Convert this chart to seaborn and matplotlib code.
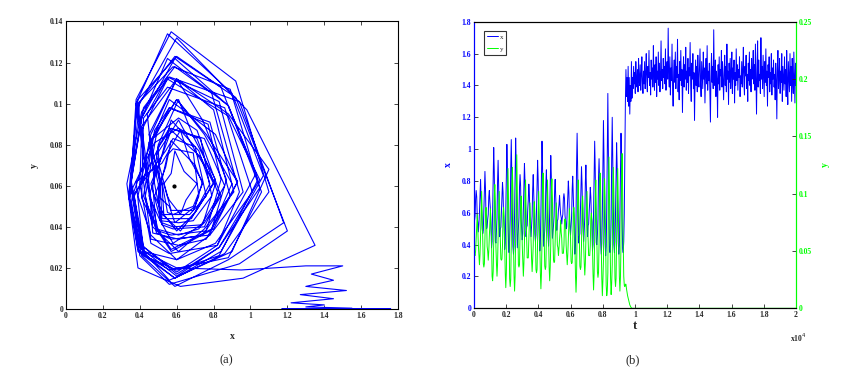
import numpy as np
import pandas as pd
import matplotlib
matplotlib.use("Agg")
import matplotlib.pyplot as plt
import seaborn as sns

# prey x during the oscillating phase (8 samples per cycle)
x_osc = [
    0.52, 0.55, 0.58, 0.69, 0.74, 0.70, 0.57, 0.54,
    0.48, 0.53, 0.60, 0.70, 0.81, 0.69, 0.61, 0.50,
    0.47, 0.49, 0.61, 0.72, 0.86, 0.75, 0.56, 0.50,
    0.51, 0.56, 0.59, 0.70, 0.74, 0.67, 0.62, 0.52,
    0.38, 0.42, 0.60, 0.81, 1.01, 0.86, 0.55, 0.42,
    0.41, 0.49, 0.57, 0.80, 0.93, 0.76, 0.60, 0.45,
    0.50, 0.51, 0.61, 0.69, 0.79, 0.73, 0.57, 0.51,
    0.37, 0.41, 0.60, 0.82, 1.03, 0.88, 0.59, 0.41,
    0.35, 0.43, 0.56, 0.88, 1.06, 0.84, 0.60, 0.39,
    0.34, 0.39, 0.59, 0.84, 1.07, 0.90, 0.55, 0.38,
    0.44, 0.50, 0.57, 0.76, 0.84, 0.77, 0.56, 0.49,
    0.43, 0.47, 0.61, 0.75, 0.91, 0.80, 0.60, 0.45,
    0.51, 0.52, 0.62, 0.68, 0.78, 0.72, 0.57, 0.52,
    0.45, 0.51, 0.58, 0.75, 0.84, 0.71, 0.61, 0.47,
    0.42, 0.46, 0.61, 0.76, 0.93, 0.81, 0.56, 0.46,
    0.36, 0.41, 0.60, 0.83, 1.05, 0.89, 0.58, 0.39,
    0.44, 0.49, 0.57, 0.78, 0.87, 0.74, 0.60, 0.46,
    0.39, 0.46, 0.60, 0.78, 0.96, 0.83, 0.55, 0.44,
    0.48, 0.52, 0.58, 0.74, 0.81, 0.70, 0.61, 0.49,
    0.55, 0.56, 0.62, 0.65, 0.71, 0.64, 0.59, 0.57,
    0.53, 0.57, 0.59, 0.69, 0.72, 0.69, 0.58, 0.55,
    0.50, 0.51, 0.62, 0.70, 0.80, 0.73, 0.57, 0.51,
    0.46, 0.52, 0.58, 0.75, 0.83, 0.71, 0.61, 0.48,
    0.34, 0.41, 0.56, 0.90, 1.10, 0.88, 0.60, 0.41,
    0.45, 0.47, 0.61, 0.74, 0.89, 0.78, 0.56, 0.48,
    0.42, 0.49, 0.57, 0.79, 0.90, 0.75, 0.60, 0.45,
    0.52, 0.53, 0.61, 0.67, 0.76, 0.70, 0.58, 0.54,
    0.36, 0.40, 0.60, 0.83, 1.05, 0.88, 0.55, 0.41,
    0.40, 0.46, 0.56, 0.82, 0.94, 0.79, 0.59, 0.42,
    0.34, 0.41, 0.59, 0.88, 1.18, 0.94, 0.56, 0.41,
    0.33, 0.39, 0.62, 0.96, 1.35, 0.98, 0.60, 0.38,
    0.35, 0.40, 0.56, 0.94, 1.20, 0.92, 0.59, 0.40,
    0.35, 0.42, 0.60, 0.83, 1.04, 0.88, 0.55, 0.41,
    0.34, 0.39, 0.59, 0.86, 1.10, 0.92, 0.57, 0.38,
]
# predator y during the oscillating phase
y_osc = [
    0.062, 0.047, 0.046, 0.050, 0.061, 0.070, 0.082, 0.069,
    0.055, 0.046, 0.038, 0.047, 0.063, 0.084, 0.102, 0.080,
    0.060, 0.039, 0.036, 0.039, 0.060, 0.083, 0.088, 0.079,
    0.054, 0.050, 0.042, 0.050, 0.062, 0.073, 0.087, 0.071,
    0.062, 0.028, 0.024, 0.032, 0.057, 0.098, 0.108, 0.093,
    0.054, 0.039, 0.028, 0.039, 0.062, 0.085, 0.102, 0.080,
    0.061, 0.043, 0.042, 0.043, 0.055, 0.083, 0.088, 0.080,
    0.055, 0.031, 0.018, 0.031, 0.066, 0.099, 0.122, 0.093,
    0.064, 0.026, 0.019, 0.025, 0.057, 0.108, 0.123, 0.102,
    0.056, 0.029, 0.015, 0.028, 0.065, 0.105, 0.134, 0.100,
    0.062, 0.038, 0.036, 0.038, 0.063, 0.090, 0.098, 0.085,
    0.055, 0.040, 0.028, 0.039, 0.057, 0.097, 0.112, 0.085,
    0.061, 0.044, 0.044, 0.044, 0.061, 0.077, 0.092, 0.075,
    0.055, 0.043, 0.032, 0.042, 0.055, 0.087, 0.093, 0.083,
    0.062, 0.034, 0.031, 0.034, 0.062, 0.085, 0.102, 0.081,
    0.055, 0.031, 0.017, 0.030, 0.059, 0.107, 0.118, 0.100,
    0.061, 0.037, 0.034, 0.036, 0.063, 0.092, 0.112, 0.085,
    0.055, 0.036, 0.024, 0.036, 0.057, 0.101, 0.113, 0.095,
    0.061, 0.042, 0.040, 0.041, 0.061, 0.077, 0.092, 0.075,
    0.055, 0.053, 0.046, 0.053, 0.061, 0.067, 0.077, 0.066,
    0.061, 0.048, 0.048, 0.048, 0.055, 0.076, 0.078, 0.075,
    0.055, 0.047, 0.038, 0.047, 0.061, 0.074, 0.087, 0.072,
    0.061, 0.041, 0.039, 0.040, 0.055, 0.083, 0.088, 0.081,
    0.055, 0.029, 0.014, 0.028, 0.068, 0.095, 0.112, 0.089,
    0.061, 0.037, 0.034, 0.036, 0.055, 0.091, 0.098, 0.087,
    0.055, 0.040, 0.029, 0.039, 0.061, 0.085, 0.102, 0.081,
    0.061, 0.046, 0.046, 0.046, 0.055, 0.079, 0.083, 0.077,
    0.055, 0.030, 0.016, 0.030, 0.063, 0.094, 0.112, 0.087,
    0.061, 0.032, 0.027, 0.031, 0.057, 0.105, 0.118, 0.098,
    0.055, 0.026, 0.011, 0.024, 0.042, 0.101, 0.113, 0.096,
    0.061, 0.020, 0.011, 0.015, 0.031, 0.097, 0.132, 0.097,
    0.055, 0.026, 0.012, 0.022, 0.038, 0.103, 0.123, 0.101,
    0.061, 0.026, 0.019, 0.026, 0.063, 0.099, 0.122, 0.093,
    0.055, 0.028, 0.015, 0.027, 0.057, 0.111, 0.135, 0.102,
]
# predator dying out
x_trans = [0.35, 0.42, 0.60, 0.95, 1.30, 1.50, 1.33, 1.45,
           1.30, 1.52, 1.27, 1.45, 1.22, 1.40, 1.30, 1.55]
y_trans = [0.060, 0.028, 0.020, 0.019, 0.021, 0.021, 0.017, 0.014,
           0.011, 0.009, 0.007, 0.005, 0.003, 0.002, 0.001, 0.0004]
# prey alone after extinction
x_late = [
    1.32, 1.45, 1.38, 1.52, 1.41, 1.48, 1.35, 1.55, 1.43, 1.39, 1.50, 1.36, 1.57, 1.44, 1.40, 1.53, 1.37, 1.46, 1.58, 1.42,
    1.35, 1.49, 1.41, 1.55, 1.38, 1.47, 1.60, 1.43, 1.36, 1.52, 1.45, 1.62, 1.40, 1.48, 1.34, 1.56, 1.44, 1.51, 1.39, 1.65,
    1.46, 1.37, 1.53, 1.42, 1.58, 1.33, 1.49, 1.44, 1.61, 1.40, 1.54, 1.36, 1.47, 1.68, 1.43, 1.50, 1.38, 1.57, 1.45, 1.52,
    1.41, 1.63, 1.37, 1.48, 1.55, 1.44, 1.76, 1.46, 1.39, 1.58, 1.34, 1.51, 1.43, 1.66, 1.40, 1.27, 1.49, 1.56, 1.42, 1.61,
    1.38, 1.52, 1.45, 1.69, 1.36, 1.47, 1.31, 1.55, 1.43, 1.62, 1.40, 1.50, 1.23, 1.46, 1.58, 1.39, 1.53, 1.44, 1.64, 1.37,
    1.49, 1.42, 1.57, 1.35, 1.51, 1.46, 1.67, 1.41, 1.30, 1.54, 1.44, 1.60, 1.38, 1.48, 1.18, 1.43, 1.56, 1.40, 1.52, 1.36,
    1.59, 1.45, 1.39, 1.50, 1.63, 1.42, 1.33, 1.55, 1.47, 1.38, 1.61, 1.44, 1.51, 1.29, 1.46, 1.57, 1.41, 1.65, 1.37, 1.49,
    1.43, 1.54, 1.36, 1.17, 1.48, 1.60, 1.42, 1.52, 1.38, 1.75, 1.45, 1.40, 1.56, 1.33, 1.49, 1.44, 1.20, 1.53, 1.41, 1.58,
    1.37, 1.50, 1.46, 1.62, 1.39, 1.55, 1.43, 1.31, 1.48, 1.59, 1.40, 1.52, 1.36, 1.66, 1.44, 1.49, 1.28, 1.54, 1.42, 1.57,
    1.38, 1.47, 1.61, 1.35, 1.51, 1.44, 1.56, 1.29, 1.48, 1.40, 1.63, 1.43, 1.53, 1.37, 1.50, 1.45, 1.58, 1.33, 1.46, 1.41,
    1.55, 1.39, 1.49, 1.64, 1.42, 1.34, 1.52, 1.46, 1.59, 1.38, 1.47, 1.30, 1.54, 1.43, 1.61, 1.40, 1.50, 1.36, 1.57, 1.44,
    1.48, 1.62, 1.41, 1.53, 1.37, 1.66, 1.45, 1.22, 1.50, 1.68, 1.39, 1.56, 1.43, 1.47, 1.35, 1.70, 1.44, 1.52, 1.38, 1.59,
    1.46, 1.33, 1.55, 1.42, 1.63, 1.40, 1.49, 1.27, 1.53, 1.45, 1.58, 1.36, 1.48, 1.41, 1.60, 1.34, 1.51, 1.44, 1.56, 1.39,
    1.47, 1.31, 1.54, 1.43, 1.19, 1.50, 1.62, 1.38, 1.45, 1.57, 1.35, 1.49, 1.42, 1.60, 1.30, 1.52, 1.44, 1.37, 1.58, 1.41,
    1.50, 1.33, 1.62, 1.42, 1.28, 1.55, 1.45, 1.36, 1.60, 1.40, 1.52, 1.30, 1.57, 1.43, 1.35, 1.61, 1.46, 1.29, 1.54, 1.40,
]
eq_x, eq_y = [0.585], [0.060]

xs = np.array(x_osc + x_trans + x_late)
ys = np.array(y_osc + y_trans + [0.0] * len(x_late))
t = np.linspace(0, 20000, len(xs))
df = pd.DataFrame({"t": t, "x": xs, "y": ys})

sns.set_style("ticks")
plt.rcParams["font.family"] = ["Liberation Serif", "DejaVu Serif"]

BLUE = "#0000ff"
GREEN = "#00ff00"
tick_font = dict(fontsize=5.5, fontweight="bold")

fig = plt.figure(figsize=(8.52, 3.81), dpi=100)

# (a) phase portrait
ax = fig.add_axes([0.0775, 0.189, 0.3897, 0.7546])
sns.lineplot(data=df, x="x", y="y", sort=False, estimator=None, color=BLUE, lw=0.8, ax=ax)
ax.scatter(eq_x, eq_y, s=4, color="black", zorder=5)
ax.set_xlim(0, 1.8)
ax.set_ylim(0, 0.14)
ax.set_xticks(np.arange(0, 1.81, 0.2))
ax.set_xticklabels(["0", "0.2", "0.4", "0.6", "0.8", "1", "1.2", "1.4", "1.6", "1.8"], **tick_font)
ax.set_yticks(np.arange(0, 0.141, 0.02))
ax.set_yticklabels(["0", "0.02", "0.04", "0.06", "0.08", "0.1", "0.12", "0.14"], **tick_font)
ax.tick_params(direction="in", top=True, right=True, length=3, width=0.6, pad=2)
for s in ax.spines.values():
    s.set_linewidth(0.8)
    s.set_color("black")
ax.set_xlabel("x", fontsize=7, fontweight="bold", labelpad=9)
ax.set_ylabel("y", fontsize=7, fontweight="bold", labelpad=8)

# (b) time series
bx = fig.add_axes([0.5563, 0.1908, 0.378, 0.752])
sns.lineplot(data=df, x="t", y="x", estimator=None, color=BLUE, lw=0.7, ax=bx, label="x", legend=False)
bx.set_xlim(0, 20000)
bx.set_ylim(0, 1.8)
bx.set_xticks(np.arange(0, 20001, 2000))
bx.set_xticklabels(["0", "0.2", "0.4", "0.6", "0.8", "1", "1.2", "1.4", "1.6", "1.8", "2"], **tick_font)
bx.set_yticks(np.arange(0, 1.81, 0.2))
bx.set_yticklabels(["0", "0.2", "0.4", "0.6", "0.8", "1", "1.2", "1.4", "1.6", "1.8"], color=BLUE, **tick_font)
bx.tick_params(direction="in", length=3, width=0.6, pad=2)
bx.set_xlabel("t", fontsize=9, fontweight="bold", labelpad=1)
bx.set_ylabel("x", fontsize=7, fontweight="bold", color=BLUE, labelpad=6)

by = bx.twinx()
sns.lineplot(data=df, x="t", y="y", estimator=None, color=GREEN, lw=0.7, ax=by, label="y", legend=False)
by.set_ylim(0, 0.25)
by.set_yticks(np.arange(0, 0.251, 0.05))
by.set_yticklabels(["0", "0.05", "0.1", "0.15", "0.2", "0.25"], color=GREEN, **tick_font)
by.tick_params(direction="in", length=3, width=0.6, pad=2)
by.set_ylabel("y", fontsize=7, fontweight="bold", color=GREEN, labelpad=6)
by.set_xlabel("")

for a in (bx, by):
    for s in a.spines.values():
        s.set_linewidth(0.8)
        s.set_color("black")
    a.spines["left"].set_color(BLUE)
    a.spines["right"].set_color(GREEN)

h1, l1 = bx.get_legend_handles_labels()
h2, l2 = by.get_legend_handles_labels()
leg = by.legend(h1 + h2, l1 + l2, loc="upper left", fontsize=5, frameon=True, fancybox=False,
                handlelength=1.6, handletextpad=0.3, borderpad=0.4, labelspacing=0.9,
                bbox_to_anchor=(0.02, 0.98))
leg.get_frame().set_edgecolor("black")
leg.get_frame().set_linewidth(0.8)

fig.text(0.927, 0.113, r"x10$^4$", fontsize=5.5, fontweight="bold", ha="left", va="center")

fig.text(0.266, 0.055, "(a)", fontsize=9, ha="center", va="center")
fig.text(0.743, 0.055, "(b)", fontsize=9, ha="center", va="center")

fig.savefig("out.png", dpi=100, facecolor="white")
